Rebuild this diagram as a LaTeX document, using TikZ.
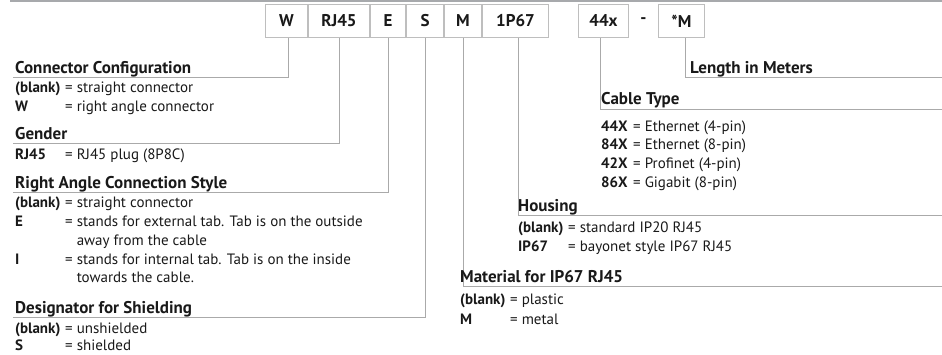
\documentclass[tikz,border=0pt]{standalone}
\usepackage{fontspec}
\setmainfont{PT Sans}
\usetikzlibrary{positioning}
\definecolor{boxStroke}{RGB}{190,190,190}
\definecolor{leadStroke}{RGB}{170,170,170}
\definecolor{ruleStroke}{RGB}{167,169,172}
\colorlet{ink}{black!90}
\tikzset{
  code/.style={
    draw=boxStroke,
    line width=1pt,
    minimum height=33pt,
    inner sep=0pt,
    text=ink,
    font=\bfseries\fontsize{17}{19}\selectfont
  },
  lead/.style={draw=leadStroke, line width=1pt},
  head/.style={anchor=base west, inner sep=0pt, text=ink, font=\bfseries\fontsize{17}{20}\selectfont},
  item/.style={anchor=base west, inner sep=0pt, text=ink, font=\fontsize{15}{18}\selectfont}
}
\newcommand{\kv}[3][50pt]{\makebox[#1][l]{\bfseries #2}= #3}
\newcommand{\kvcont}[2][50pt]{\makebox[#1][l]{}\phantom{= }#2}

\begin{document}
\begin{tikzpicture}[x=1pt,y=-1pt]
  \useasboundingbox (0,0) rectangle (942,355);
  \draw[draw=ruleStroke, line width=2pt] (10,1) -- (942,1);

  % code boxes
  \node[code, minimum width=42pt, anchor=north west] (cW) at (265,4) {W};
  \node[code, minimum width=61pt, right=0pt of cW] (cRJ) {RJ45};
  \node[code, minimum width=35pt, right=0pt of cRJ] (cE) {E};
  \node[code, minimum width=37pt, right=0pt of cE] (cS) {S};
  \node[code, minimum width=37pt, right=0pt of cS] (cM) {M};
  \node[code, minimum width=66pt, right=0pt of cM] (cIP) {1P67};
  \node[code, minimum width=50pt, right=29pt of cIP] (cCab) {44x};
  \node[code, draw=none, minimum width=28pt, right=0pt of cCab] (cDash) {-};
  \node[code, minimum width=46pt, right=0pt of cDash] (cLen) {*M};

  % corners of the leader lines
  \coordinate (eCfg) at (13,78);
  \coordinate (eGen) at (13,144);
  \coordinate (eSty) at (13,193);
  \coordinate (eShd) at (13,317);
  \coordinate (eMat) at (942,287);
  \coordinate (eHou) at (942,216);
  \coordinate (eCab) at (942,110);
  \coordinate (eLen) at (942,78);

  \draw[lead] ([xshift=2pt]cW.south) |- (eCfg);
  \draw[lead] (cRJ.south) |- (eGen);
  \draw[lead] (cE.south) |- (eSty);
  \draw[lead] (cS.south) |- (eShd);
  \draw[lead] (cM.south) |- (eMat);
  \draw[lead] ([xshift=3pt]cIP.south) |- (eHou);
  \draw[lead] ([xshift=-3pt]cCab.south) |- (eCab);
  \draw[lead] ([xshift=4pt]cLen.south) |- (eLen);

  % left column
  \node[head] (hCfg) at (15,74) {Connector Configuration};
  \node[item] (iCfgA) at (15,93) {\kv{(blank)}{straight connector}};
  \node[item] (iCfgB) at (15,112) {\kv{W}{right angle connector}};

  \node[head] (hGen) at (15,140) {Gender};
  \node[item] (iGenA) at (15,160) {\kv{RJ45}{RJ45 plug (8P8C)}};

  \node[head] (hSty) at (15,189) {Right Angle Connection Style};
  \node[item] (iStyA) at (15,208) {\kv{(blank)}{straight connector}};
  \node[item] (iStyB) at (15,227) {\kv{E}{stands for external tab. Tab is on the outside}};
  \node[item] (iStyC) at (15,246) {\kvcont{away from the cable}};
  \node[item] (iStyD) at (15,265) {\kv{I}{stands for internal tab. Tab is on the inside}};
  \node[item] (iStyE) at (15,283) {\kvcont{towards the cable.}};

  \node[head] (hShd) at (15,313) {Designator for Shielding};
  \node[item] (iShdA) at (15,333) {\kv{(blank)}{unshielded}};
  \node[item] (iShdB) at (15,350) {\kv{S}{shielded}};

  % right side
  \node[head] (hLen) at (690,74) {Length in Meters};

  \node[head] (hCab) at (601,105) {Cable Type};
  \node[item] (iCabA) at (601,132) {\kv[32pt]{44X}{Ethernet (4-pin)}};
  \node[item] (iCabB) at (601,150) {\kv[32pt]{84X}{Ethernet (8-pin)}};
  \node[item] (iCabC) at (601,169) {\kv[32pt]{42X}{Profinet (4-pin)}};
  \node[item] (iCabD) at (601,188) {\kv[32pt]{86X}{Gigabit (8-pin)}};

  \node[head] (hHou) at (518,212) {Housing};
  \node[item] (iHouA) at (518,233) {\kv{(blank)}{standard IP20 RJ45}};
  \node[item] (iHouB) at (518,252) {\kv{IP67}{bayonet style IP67 RJ45}};

  \node[head] (hMat) at (460,283) {Material for IP67 RJ45};
  \node[item] (iMatA) at (460,305) {\kv{(blank)}{plastic}};
  \node[item] (iMatB) at (460,324) {\kv{M}{metal}};
\end{tikzpicture}
\end{document}
